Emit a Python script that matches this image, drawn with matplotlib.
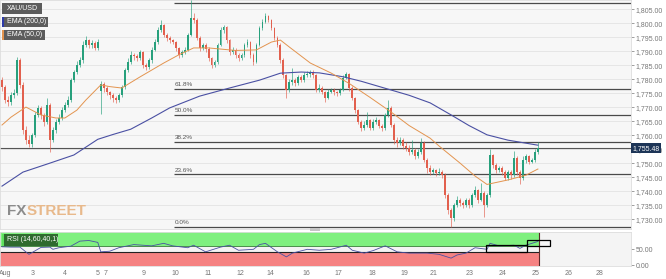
import matplotlib
matplotlib.use('Agg')
import matplotlib.pyplot as plt
import matplotlib.transforms as mtransforms
from matplotlib.patches import Rectangle
from matplotlib.ticker import FuncFormatter

plt.rcParams['font.family'] = ['Liberation Sans', 'DejaVu Sans']

# XAU/USD candles (one entry per candle, oldest first)
first_open = 1779.7
gap_opens = {33: 1776.0}
closes = [1777.2, 1772.6, 1771.8, 1774.4, 1775.1, 1786.9, 1778.0, 1761.9, 1758.3, 1756.9,
          1760.1, 1767.3, 1769.8, 1767.3, 1764.8, 1770.8, 1758.3, 1761.9, 1764.8, 1766.2,
          1769.0, 1770.8, 1772.6, 1779.7, 1782.6, 1785.1, 1786.9, 1792.3, 1794.0, 1792.3,
          1793.0, 1791.2, 1793.3, 1778.5, 1776.9, 1775.5, 1774.4, 1773.3, 1772.6, 1774.4,
          1777.2, 1783.3, 1786.2, 1788.7, 1788.2, 1787.6, 1789.7, 1785.1, 1784.4, 1786.9,
          1790.5, 1793.3, 1797.6, 1799.4, 1795.8, 1794.8, 1794.0, 1793.3, 1791.2, 1788.7,
          1789.7, 1790.5, 1795.8, 1801.9, 1801.2, 1794.8, 1791.2, 1792.3, 1790.8, 1787.6,
          1785.1, 1786.2, 1792.3, 1797.6, 1798.7, 1794.0, 1789.7, 1790.5, 1788.7, 1787.6,
          1788.7, 1792.3, 1793.3, 1788.7, 1786.2, 1792.3, 1798.3, 1800.5, 1802.6, 1801.2,
          1798.3, 1794.8, 1792.3, 1786.9, 1781.5, 1776.2, 1779.0, 1779.7, 1778.7, 1780.8,
          1779.7, 1781.5, 1781.9, 1782.6, 1781.5, 1776.2, 1776.9, 1775.5, 1773.3, 1775.5,
          1776.2, 1775.5, 1775.1, 1776.2, 1780.5, 1781.9, 1776.9, 1773.3, 1769.0, 1764.8,
          1762.6, 1763.7, 1765.5, 1762.6, 1764.8, 1765.5, 1763.3, 1762.6, 1767.3, 1769.8,
          1763.7, 1758.3, 1757.3, 1758.3, 1756.2, 1755.5, 1754.0, 1754.8, 1752.6, 1754.0,
          1757.3, 1751.2, 1748.3, 1746.9, 1747.6, 1746.5, 1746.9, 1745.8, 1738.7, 1733.3,
          1730.5, 1735.1, 1736.9, 1735.8, 1735.1, 1736.9, 1735.1, 1738.7, 1740.5, 1736.9,
          1739.4, 1735.1, 1738.7, 1753.0, 1749.4, 1747.6, 1748.3, 1746.9, 1744.8, 1746.9,
          1745.8, 1751.9, 1746.9, 1744.8, 1751.2, 1752.6, 1750.5, 1751.2, 1754.0, 1755.48]
highs = [1781.0, 1778.0, 1774.0, 1775.5, 1776.5, 1788.0, 1787.5, 1779.0, 1763.5, 1760.0,
         1761.0, 1768.5, 1771.0, 1770.5, 1768.0, 1773.5, 1771.5, 1763.0, 1766.0, 1767.5,
         1770.0, 1772.0, 1774.0, 1780.5, 1783.5, 1786.5, 1788.0, 1793.5, 1795.5, 1794.5,
         1794.0, 1793.5, 1794.5, 1779.5, 1779.0, 1777.5, 1776.0, 1775.0, 1774.0, 1775.0,
         1778.0, 1784.0, 1787.5, 1790.0, 1789.5, 1789.0, 1790.5, 1790.0, 1786.0, 1787.5,
         1791.5, 1794.5, 1798.5, 1801.0, 1799.8, 1796.5, 1795.5, 1794.5, 1793.8, 1791.5,
         1790.5, 1791.5, 1796.5, 1808.3, 1803.5, 1801.8, 1795.5, 1793.0, 1793.0, 1791.5,
         1788.0, 1787.0, 1793.0, 1798.5, 1799.5, 1799.0, 1794.5, 1791.5, 1791.0, 1789.5,
         1789.5, 1793.0, 1794.5, 1793.8, 1789.5, 1793.0, 1799.0, 1801.5, 1803.5, 1803.0,
         1801.5, 1798.8, 1795.5, 1792.8, 1787.5, 1782.0, 1780.0, 1784.0, 1780.5, 1781.5,
         1781.5, 1782.5, 1783.0, 1783.5, 1783.2, 1782.0, 1778.5, 1777.5, 1776.0, 1776.5,
         1777.0, 1777.0, 1776.0, 1777.0, 1781.5, 1782.6, 1782.3, 1777.5, 1773.8, 1769.5,
         1765.5, 1765.0, 1768.5, 1766.0, 1766.0, 1766.5, 1766.0, 1764.0, 1768.0, 1772.5,
         1770.5, 1764.5, 1759.5, 1759.5, 1759.0, 1757.5, 1756.5, 1758.5, 1755.5, 1755.0,
         1759.0, 1758.0, 1752.0, 1749.5, 1748.5, 1748.0, 1748.5, 1747.5, 1746.5, 1739.5,
         1734.0, 1736.0, 1738.5, 1737.5, 1736.5, 1737.5, 1737.5, 1739.5, 1742.0, 1741.0,
         1743.0, 1740.0, 1739.5, 1755.0, 1753.5, 1750.0, 1749.0, 1749.0, 1747.5, 1747.8,
         1747.5, 1754.5, 1752.5, 1747.5, 1752.5, 1753.5, 1753.0, 1752.0, 1755.0, 1757.8]
lows = [1776.0, 1771.5, 1770.5, 1771.0, 1773.5, 1774.5, 1777.0, 1760.5, 1757.0, 1755.8,
        1756.0, 1759.5, 1766.5, 1766.0, 1763.5, 1764.0, 1754.1, 1757.5, 1761.0, 1764.0,
        1765.5, 1768.5, 1770.0, 1772.0, 1779.0, 1782.0, 1784.5, 1786.0, 1791.5, 1791.0,
        1791.0, 1790.5, 1790.5, 1767.5, 1775.5, 1774.5, 1773.0, 1772.0, 1771.5, 1771.8,
        1773.8, 1776.5, 1782.5, 1785.5, 1787.0, 1786.5, 1787.0, 1784.0, 1783.5, 1783.8,
        1786.0, 1790.0, 1792.5, 1797.0, 1795.0, 1793.8, 1793.0, 1792.5, 1790.0, 1787.5,
        1788.0, 1789.0, 1790.0, 1795.5, 1800.0, 1794.0, 1790.0, 1790.5, 1789.8, 1786.5,
        1784.0, 1784.5, 1785.5, 1792.0, 1796.5, 1793.0, 1788.5, 1789.0, 1787.5, 1786.5,
        1787.0, 1788.0, 1791.5, 1787.5, 1785.0, 1786.0, 1792.0, 1797.5, 1800.0, 1800.5,
        1797.5, 1794.0, 1791.5, 1786.0, 1780.5, 1773.5, 1775.5, 1778.0, 1777.5, 1778.0,
        1779.0, 1779.0, 1780.8, 1781.0, 1780.5, 1775.5, 1775.5, 1774.8, 1772.0, 1773.0,
        1775.0, 1774.5, 1774.0, 1774.5, 1776.0, 1780.0, 1776.0, 1772.5, 1768.0, 1764.0,
        1761.5, 1762.0, 1763.0, 1761.8, 1762.0, 1764.0, 1762.5, 1761.5, 1762.0, 1766.5,
        1763.0, 1757.0, 1756.0, 1756.5, 1755.0, 1754.5, 1753.0, 1753.5, 1751.5, 1752.0,
        1753.5, 1750.5, 1746.5, 1746.0, 1746.2, 1745.5, 1745.8, 1744.8, 1737.5, 1732.0,
        1727.3, 1729.5, 1734.5, 1734.8, 1734.0, 1734.5, 1734.0, 1734.5, 1738.0, 1736.0,
        1736.5, 1731.0, 1734.5, 1738.0, 1748.5, 1746.5, 1746.8, 1746.0, 1744.0, 1744.0,
        1744.5, 1745.0, 1746.0, 1742.8, 1744.0, 1750.0, 1749.8, 1750.0, 1750.5, 1753.5]

# moving averages (candle index, price)
ema200_idx = [0, 7, 16, 24, 32, 37, 43, 50, 56, 66, 76, 86, 93, 100, 106, 114, 120, 128,
              136, 143, 150, 156, 162, 169, 179]
ema200 = [1741.9, 1746.9, 1750.1, 1753.0, 1758.6, 1760.3, 1762.2, 1766.2, 1769.8, 1774.0,
          1776.9, 1779.7, 1782.2, 1782.6, 1782.3, 1780.9, 1779.3, 1776.8, 1774.3, 1771.6,
          1767.3, 1763.5, 1760.2, 1758.3, 1756.5]
ema50_idx = [0, 3, 8, 13, 18, 21, 25, 28, 33, 36, 40, 46, 54, 59, 64, 69, 78, 85, 90, 93,
             96, 103, 110, 116, 123, 130, 136, 143, 146, 153, 158, 162, 169, 175, 179]
ema50 = [1763.7, 1766.5, 1770.1, 1767.3, 1766.2, 1766.2, 1769.0, 1772.6, 1778.0, 1777.4,
         1776.9, 1780.8, 1785.8, 1788.7, 1791.2, 1791.2, 1790.3, 1790.5, 1793.3, 1794.0,
         1791.5, 1785.8, 1782.2, 1778.5, 1773.5, 1768.3, 1763.5, 1759.0, 1756.2, 1750.1,
         1745.5, 1742.5, 1744.1, 1745.8, 1748.0]

rsi_idx = [0, 3, 6, 9, 13, 16, 17, 19, 23, 26, 29, 32, 33, 36, 39, 44, 47, 50, 54, 57,
           62, 64, 68, 73, 76, 79, 84, 86, 88, 92, 95, 97, 102, 106, 110, 115, 117, 121,
           124, 128, 132, 136, 142, 146, 150, 152, 155, 158, 162, 163, 166, 171, 173, 175, 179]
rsi = [58, 57, 57, 34, 56, 57, 50, 55, 60, 76, 78, 72, 42, 44, 55, 65, 63, 61, 69, 61,
       55, 63, 42, 57, 63, 47, 50, 65, 69, 42, 26, 38, 50, 47, 50, 63, 47, 38,
       46, 61, 42, 38, 38, 34, 22, 32, 38, 55, 50, 69, 61, 63, 53, 63, 75]

fib_low, fib_high = 1727.25, 1807.25
fib_ratios = [0.0, 0.236, 0.382, 0.5, 0.618, 1.0]
fib_start = 57.4

last_price = 1755.48
date_labels = ['Aug', '3', '4', '5', '7', '9', '10', '11', '12', '14', '16', '17', '18',
               '19', '21', '23', '24', '25', '26', '28']
date_pos = [1.0, 10.1, 21.1, 32.0, 34.7, 47.2, 58.0, 68.9, 79.7, 89.6, 101.8, 112.5,
            123.6, 134.4, 144.0, 156.2, 167.3, 178.3, 189.1, 199.6]

W, H = 666, 279
fig = plt.figure(figsize=(W / 100, H / 100), dpi=100)
fig.patch.set_facecolor('white')

def fx(px):
    return px / W

def fy(py):
    return 1 - py / H

ax = fig.add_axes([0, fy(229), fx(631), 229 / H])
rax = fig.add_axes([0, fy(266), fx(631), 34 / H], sharex=ax)

xmin, xmax = -0.668, 210.1
up_col, dn_col = '#27a07c', '#e2604e'

# candles
n = len(closes)
opens = [first_open] + closes[:-1]
for k, v in gap_opens.items():
    opens[k] = v
idx = list(range(n))
cols = [up_col if c >= o else dn_col for o, c in zip(opens, closes)]
hi = [max(h, o, c) for h, o, c in zip(highs, opens, closes)]
lo = [min(l, o, c) for l, o, c in zip(lows, opens, closes)]
ax.vlines(idx, lo, hi, colors=cols, lw=0.6, alpha=0.75, zorder=3)
bottoms = [min(o, c) for o, c in zip(opens, closes)]
heights = [max(abs(c - o), 0.2) for o, c in zip(opens, closes)]
ax.bar(idx, heights, bottom=bottoms, width=0.62, color=cols, lw=0, zorder=4)

ax.plot(ema200_idx, ema200, color='#4a50a3', lw=0.8, zorder=5)
ax.plot(ema50_idx, ema50, color='#e3944f', lw=0.7, zorder=5)

# fibonacci retracement
for r in fib_ratios:
    lvl = fib_low + r * (fib_high - fib_low)
    ax.hlines(lvl, fib_start, xmax, color='#4a4a4a', lw=0.9, zorder=2)
    if r < 1:
        ax.text(fib_start + 0.3, lvl + 0.6, f'{r * 100:.1f}%', fontsize=4.6,
                color='#555555', va='bottom', ha='left', zorder=6)

ax.axhline(last_price, color='#555555', lw=0.8, zorder=2)

ax.set_xlim(xmin, xmax)
ax.set_ylim(1726.6, 1808.3)
ax.set_facecolor('#f7f7f7')
ax.set_yticks(range(1730, 1806, 5))
ax.yaxis.tick_right()
ax.yaxis.set_major_formatter(FuncFormatter(lambda v, p: f'{v:,.2f}'))
ax.tick_params(axis='y', labelsize=5, colors='#777777', length=2, width=0.5, pad=1.5)
ax.tick_params(axis='x', bottom=False, labelbottom=False)
ax.grid(axis='y', color='#e3e3e3', lw=0.6, zorder=0)
for s in ax.spines.values():
    s.set_color('#dddddd')
    s.set_linewidth(0.6)

# price tag, drawn on the figure so it sits above the tick labels
trans = mtransforms.blended_transform_factory(fig.transFigure, ax.transData)
fig.text(fx(632), last_price, f'{last_price:,.2f}', transform=trans, fontsize=5,
         color='white', va='center', ha='left', zorder=20,
         bbox=dict(boxstyle='square,pad=0.2', fc='#1d3557', ec='none'))

# RSI panel
band_end = 179.5
rax.set_facecolor('#f4f4f4')
rax.fill_between([xmin, band_end], 60, 105, color='#7ff07f', lw=0, zorder=1)
rax.fill_between([xmin, band_end], -3, 40, color='#f58282', lw=0, zorder=1)
rax.hlines(60, xmin, band_end, color='#2f7d2f', lw=0.6, zorder=2)
rax.hlines(40, xmin, band_end, color='#222222', lw=0.8, zorder=2)
rax.vlines(band_end, -3, 105, color='#5a2a2a', lw=0.8, zorder=2)
rax.plot(rsi_idx, rsi, color='#4a50a3', lw=0.6, zorder=3)
rax.add_patch(Rectangle((161.7, 42.4), 13.7, 21.3, fill=False, ec='black', lw=0.9, zorder=4))
rax.add_patch(Rectangle((175.4, 61.5), 7.6, 19.1, fill=False, ec='black', lw=0.9, zorder=4))
rax.set_ylim(-3, 105)
rax.set_yticks([0, 50])
rax.yaxis.tick_right()
rax.yaxis.set_major_formatter(FuncFormatter(lambda v, p: f'{v:.2f}'))
rax.tick_params(axis='y', labelsize=5, colors='#777777', length=2, width=0.5, pad=1.5)
rax.set_xticks(date_pos)
rax.set_xticklabels(date_labels)
rax.tick_params(axis='x', labelsize=5, colors='#777777', length=0, pad=3)
for s in rax.spines.values():
    s.set_color('#dddddd')
    s.set_linewidth(0.6)

# legend boxes
def tag(x0, y0, w, h, label, fc, stripe=None):
    fig.patches.append(Rectangle((fx(x0), fy(y0 + h)), w / W, h / H,
                                 transform=fig.transFigure, fc=fc, ec='none', zorder=10))
    if stripe:
        fig.patches.append(Rectangle((fx(x0), fy(y0 + h)), 1.5 / W, h / H,
                                     transform=fig.transFigure, fc=stripe, ec='none', zorder=11))
    fig.text(fx(x0 + 5), fy(y0 + h / 2), label, fontsize=5, color='white',
             va='center', ha='left', zorder=12)

tag(2, 3, 40, 10.5, 'XAU/USD', '#5c5c5c')
tag(2, 16.5, 46, 10, 'EMA (200,0)', '#5c5c5c', '#2d3aa8')
tag(2, 30, 43, 10, 'EMA (50,0)', '#5c5c5c', '#e3944f')
tag(2, 234, 56, 11.5, 'RSI (14,60,40,1)', '#2f6a2f', '#5ee05e')

# watermark: place STREET right after FX
fx_txt = fig.text(fx(7), fy(211), 'FX', fontsize=11, fontweight='bold', color='#8c8c8c',
                  family=['Liberation Sans Narrow', 'Liberation Sans'], va='center', ha='left')
fig.canvas.draw()
bb = fx_txt.get_window_extent()
fig.text(bb.x1 / W + 0.5 / W, fy(211), 'STREET', fontsize=11, fontweight='bold',
         color='#e8b98b', family=['Liberation Sans Narrow', 'Liberation Sans'],
         va='center', ha='left')

# scrollbar handle
fig.patches.append(Rectangle((fx(310), fy(231)), 10 / W, 3 / H, transform=fig.transFigure,
                             fc='#c4c4c4', ec='none', zorder=10))

fig.savefig('out.png', dpi=100)
